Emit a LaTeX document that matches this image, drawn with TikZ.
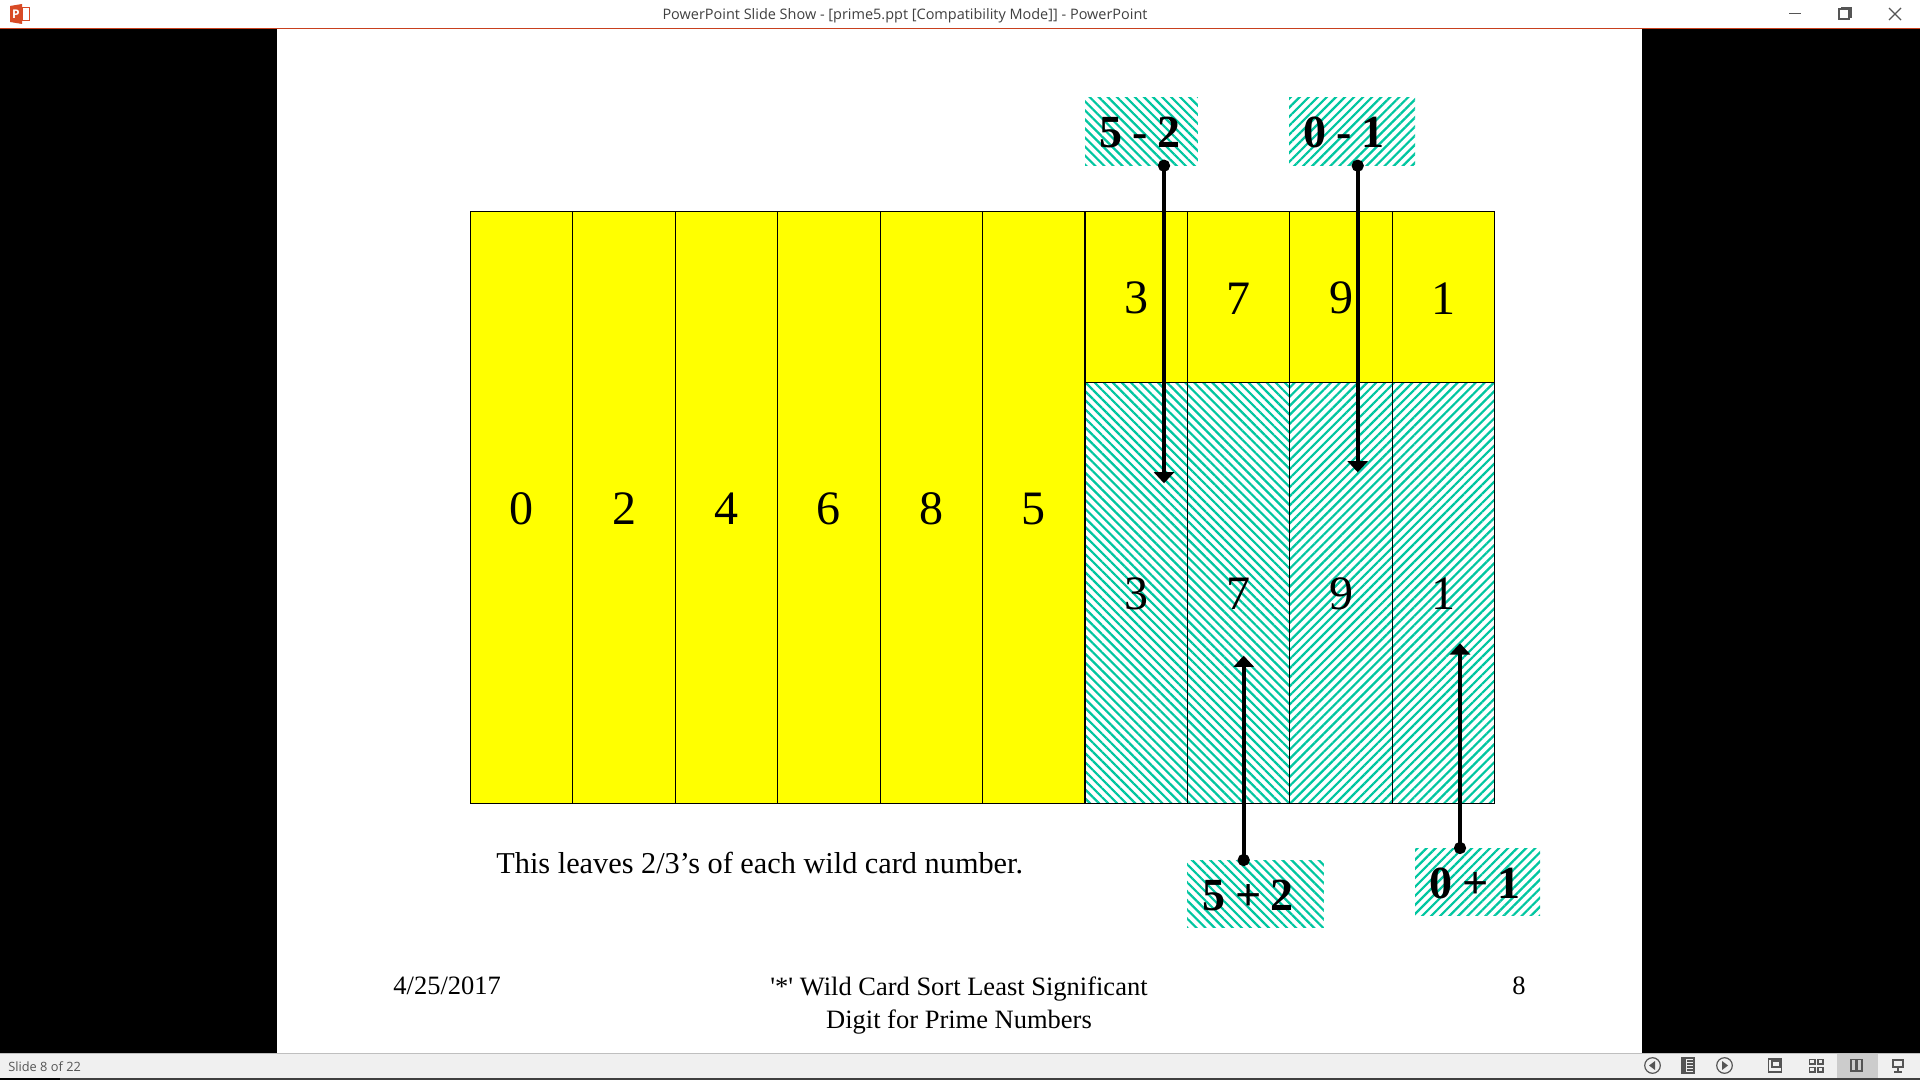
\documentclass[tikz,border=0pt]{standalone}
\usepackage{fontspec}
\setmainfont{Liberation Serif}
\newfontfamily\plainserif{Liberation Serif}
\newfontfamily\uifont{Open Sans}
\usetikzlibrary{positioning,arrows.meta,patterns.meta}
\definecolor{barline}{HTML}{C8401E}
\definecolor{barfill}{HTML}{F0F0F0}
\definecolor{uigray}{HTML}{555555}
\definecolor{hatchgreen}{HTML}{00C6A0}
\definecolor{ppred}{HTML}{D84A25}
\definecolor{cellyellow}{RGB}{255,255,0}
\newcommand{\tagsp}{\hspace{0.21em}}
\tikzset{
  hatchl/.style={pattern={Lines[angle=-45,distance=3.2pt,line width=1.1pt]},pattern color=hatchgreen},
  hatchr/.style={pattern={Lines[angle=45,distance=3.2pt,line width=1.1pt]},pattern color=hatchgreen}
}
\begin{document}
\begin{tikzpicture}[x=0.5pt,y=-0.5pt,
  cell/.style={draw=black, line width=0.55pt, anchor=north west, inner sep=0pt, outer sep=0pt, text height=17.2pt, font=\fontsize{24}{24}\selectfont},
  tag/.style={anchor=north west, inner sep=0pt, outer sep=0pt, text height=16.6pt, font=\fontsize{23}{23}\selectfont\bfseries},
  txt/.style={inner sep=0pt, font=\fontsize{13.25}{16.5}\selectfont, align=center},
  arr/.style={{Circle[length=6pt]}-{Triangle[length=5.6pt,width=10pt]}, line width=2.2pt, black, shorten <=-3pt},
  ui/.style={draw=uigray, line width=0.6pt},
  bar/.style={inner sep=0pt, font=\uifont\fontsize{7.23}{9}\selectfont, text=uigray}]
  \useasboundingbox (0,0) rectangle (1920,1080);
  % slide and black sides
  \fill[black] (0,0) rectangle (1920,1080);
  \fill[white] (277,29) rectangle (1642,1054);
  % title bar
  \fill[white] (0,0) rectangle (1920,28);
  \fill[barline] (0,28) rectangle (1920,29);
  \node[bar, text=black!75] (title) at (905,16) {PowerPoint Slide Show - [prime5.ppt [Compatibility Mode]] - PowerPoint};
  \fill[ppred] (10,6) -- (22,4) -- (22,24) -- (10,22) -- cycle;
  \draw[ppred, line width=0.5pt, fill=white] (22,7.5) rectangle (29.5,20.5);
  \node[inner sep=0pt, text=white, font=\uifont\bfseries\fontsize{6}{6}\selectfont] (logo) at (16,14) {P};
  \draw[ui] (1789,13.5) -- (1801,13.5);
  \draw[ui] (1839,19) rectangle (1849,9);
  \draw[ui] (1842,9) -- (1842,8) -- (1851,8) -- (1851,17) -- (1849,17);
  \draw[ui] (1889,8) -- (1901,20) (1901,8) -- (1889,20);
  % columns
  \foreach \d/\i in {0/0,2/1,4/2,6/3,8/4,5/5}{
    \node[cell, fill=cellyellow, minimum width=51.2pt, minimum height=296pt] (c\d) at (470.5+102.4*\i,211.3) {\d};
  }
  \foreach \d/\i/\h in {3/0/hatchl,7/1/hatchl,9/2/hatchr,1/3/hatchr}{
    \node[cell, fill=cellyellow, minimum width=51.2pt, minimum height=85.7pt] (t\d) at (1085+102.4*\i,211.3) {\d};
    \node[cell, \h, minimum width=51.2pt, minimum height=210.3pt] (b\d) at (1085+102.4*\i,382.7) {};
    \node[font=\fontsize{24}{24}\selectfont, inner sep=0pt] (n\d) at (1136.2+102.4*\i,594) {\d};
  }
  % labels
  \node[tag, hatchl, minimum width=56.4pt, minimum height=34.2pt] (l52) at (1085,97.3) {5\tagsp-\tagsp2\rule{1.2pt}{0pt}};
  \node[tag, hatchr, minimum width=63pt, minimum height=34.2pt] (l01) at (1289,97.3) {0\tagsp-\tagsp1\rule{8pt}{0pt}};
  \node[tag, hatchl, minimum width=68.4pt, minimum height=33.9pt] (p52) at (1187,860) {5\tagsp+\tagsp2\rule{7.3pt}{0pt}};
  \node[tag, hatchr, minimum width=62.5pt, minimum height=33.9pt] (p01) at (1415,848) {0\tagsp+\tagsp1\rule{2.4pt}{0pt}};
  \coordinate (e52) at (1164,483.3);
  \coordinate (e01) at (1357.7,472.3);
  \coordinate (f52) at (1243.7,655.7);
  \coordinate (f01) at (1460,643.3);
  \draw[arr] (l52.south -| e52) -- (e52);
  \draw[arr] (l01.south -| e01) -- (e01);
  \draw[arr] (p52.north -| f52) -- (f52);
  \draw[arr] (p01.north -| f01) -- (f01);
  % text
  \node[txt, anchor=west, font=\fontsize{15.15}{16.5}\selectfont] (note) at (496,863) {This leaves 2/3’s of each wild card number.};
  \node[txt, anchor=west] (date) at (393,986) {4/25/2017};
  \node[txt, font=\plainserif\fontsize{13.25}{16.5}\selectfont] (foot) at (959,1005.5) {'*' Wild Card Sort Least Significant\\Digit for Prime Numbers};
  \node[txt] (page) at (1519,986) {8};
  % status bar
  \fill[barfill] (0,1054) rectangle (1920,1078);
  \fill[black!25] (0,1053) rectangle (1920,1054);
  \fill[black!75] (60,1078) rectangle (1920,1080);
  \fill[black] (0,1078) rectangle (60,1080);
  \node[bar, anchor=west, font=\uifont\fontsize{6.4}{8}\selectfont] (slide) at (8,1066.5) {Slide 8 of 22};
  \fill[black!20] (1837,1054) rectangle (1878,1078);
  \draw[ui] (1652.5,1065.5) circle (7.8);
  \fill[uigray] (1649,1065.5) -- (1655,1061) -- (1655,1070) -- cycle;
  \draw[ui] (1682,1058) rectangle (1694,1073);
  \fill[uigray] (1682,1058) rectangle (1686,1073);
  \foreach \y in {1061,1064,1067,1070} \draw[ui] (1687,\y) -- (1693,\y);
  \draw[ui] (1724.5,1065.5) circle (7.8);
  \fill[uigray] (1728,1065.5) -- (1722,1061) -- (1722,1070) -- cycle;
  \draw[ui] (1768.5,1059) rectangle (1781.5,1072);
  \draw[ui] (1772,1061) rectangle (1780,1067);
  \draw[ui] (1809.5,1059.5) rectangle (1815,1064) (1818,1059.5) rectangle (1823,1064);
  \draw[ui] (1809.5,1067.5) rectangle (1815,1072) (1818,1067.5) rectangle (1823,1072);
  \draw[ui] (1851,1059.5) rectangle (1856,1071) (1857,1059.5) rectangle (1862,1071);
  \draw[ui] (1892,1060) -- (1904,1060) (1893,1060) rectangle (1903,1067) (1898,1067) -- (1898,1072) (1894,1072) -- (1902,1072);
\end{tikzpicture}
\end{document}
